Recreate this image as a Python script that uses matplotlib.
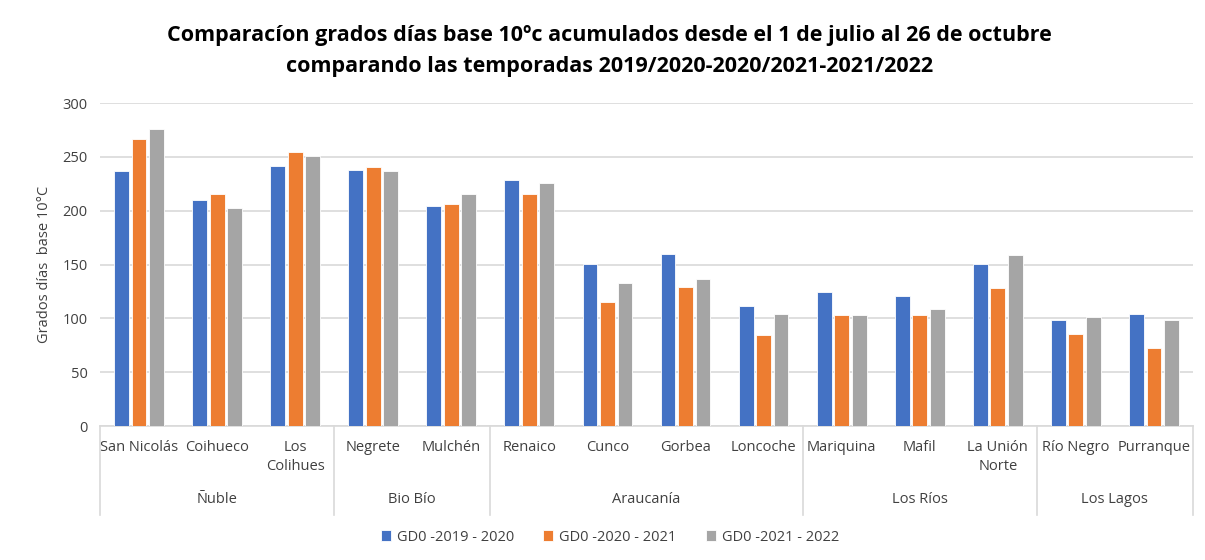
import matplotlib
matplotlib.use("Agg")
import matplotlib.pyplot as plt
import matplotlib.transforms as mtransforms
import numpy as np

plt.rcParams["font.family"] = ["Liberation Sans Narrow", "Open Sans", "DejaVu Sans"]

# data
stations = ["San Nicolás", "Coihueco", "Los\nColihues", "Negrete", "Mulchén",
            "Renaico", "Cunco", "Gorbea", "Loncoche", "Mariquina", "Mafil",
            "La Unión\nNorte", "Río Negro", "Purranque"]
regions = ["Ñuble", "Bio Bío", "Araucanía", "Los Ríos", "Los Lagos"]
region_sizes = [3, 2, 4, 3, 2]
gd_2019_2020 = [237, 210, 242, 238, 204, 229, 151, 160, 112, 125, 121, 151, 99, 104]
gd_2020_2021 = [267, 216, 255, 241, 206, 216, 115, 129, 85, 103, 103, 128, 86, 73]
gd_2021_2022 = [276, 203, 251, 237, 216, 226, 133, 137, 104, 103, 109, 159, 101, 99]
series_names = ["GD0 -2019 - 2020", "GD0 -2020 - 2021", "GD0 -2021 - 2022"]

COLORS = ["#4472C4", "#ED7D31", "#A5A5A5"]
GRID = "#D9D9D9"
TEXT = "#404040"

fig = plt.figure(figsize=(12.05, 5.6), dpi=100)
ax = fig.add_axes([0.083, 0.239, 0.907, 0.577])

x = np.arange(len(stations))
step = 0.224
width = 0.19
for i, (vals, name) in enumerate(zip([gd_2019_2020, gd_2020_2021, gd_2021_2022], series_names)):
    ax.bar(x + (i - 1) * step, vals, width, color=COLORS[i], label=name,
           edgecolor="white", linewidth=0.6, zorder=3)

ax.set_xlim(-0.5, len(stations) - 0.5)
ax.set_ylim(0, 300)
ax.set_yticks(range(0, 301, 50))
ax.grid(axis="y", color=GRID, linewidth=1.2, zorder=0)
for s in ["top", "right", "left"]:
    ax.spines[s].set_visible(False)
ax.spines["bottom"].set_color(GRID)
ax.spines["bottom"].set_linewidth(1.2)
ax.tick_params(axis="both", length=0, labelsize=10.5, colors=TEXT)
ax.tick_params(axis="y", pad=9)
ax.set_xticks(x)
ax.set_xticklabels(stations, va="top", linespacing=1.35)
ax.tick_params(axis="x", pad=10)
ax.set_ylabel("Grados días  base 10°C", fontsize=10.5, color=TEXT)
ax.yaxis.set_label_coords(-0.044, 0.5)

# region level of the category axis
trans = mtransforms.blended_transform_factory(ax.transData, ax.transAxes)
edges = np.concatenate([[0], np.cumsum(region_sizes)]) - 0.5
for e in edges:
    ax.plot([e, e], [0, -0.276], transform=trans, color=GRID, lw=1.2, clip_on=False)
for r, a, b in zip(regions, edges[:-1], edges[1:]):
    ax.text((a + b) / 2, -0.226, r, transform=trans, ha="center", va="center",
            fontsize=10.5, color=TEXT)

fig.suptitle("Comparacíon grados días base 10ºc acumulados desde el 1 de julio al 26 de octubre\n"
             "comparando las temporadas 2019/2020-2020/2021-2021/2022",
             x=0.506, y=0.955, fontsize=15.5, fontweight="bold", color="black",
             family=["Open Sans", "DejaVu Sans"], linespacing=1.6)

fig.legend(loc="center", bbox_to_anchor=(0.506, 0.041), ncol=3, frameon=False,
           fontsize=10.5, handlelength=0.7, handleheight=0.7, columnspacing=2.0,
           handletextpad=0.4, labelcolor=TEXT)

fig.savefig("out.png", dpi=100)
